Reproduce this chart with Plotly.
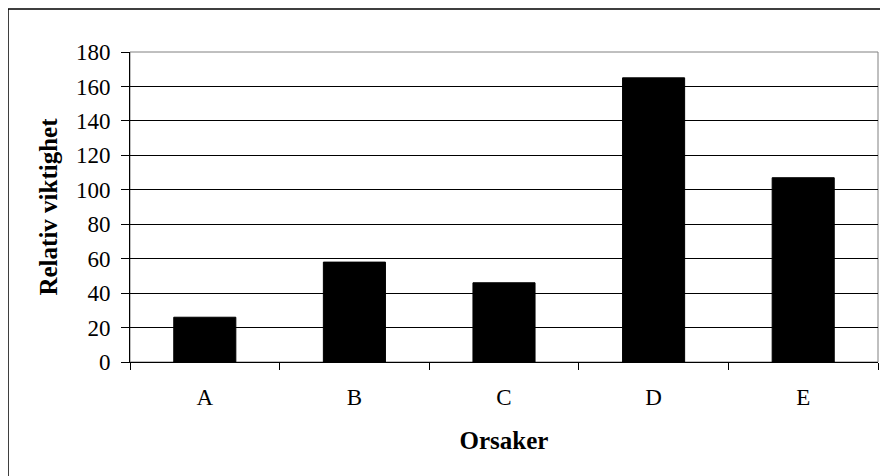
import plotly.graph_objects as go

categories = ["A", "B", "C", "D", "E"]
values = [26, 58, 46, 165, 107]
y_ticks = [0, 20, 40, 60, 80, 100, 120, 140, 160, 180]

FONT = "Liberation Serif, Times New Roman, serif"

fig = go.Figure(go.Bar(
    x=categories, y=values,
    marker=dict(color="black", line=dict(color="black", width=1)),
    width=0.415,
))

fig.update_layout(
    width=880, height=468,
    margin=dict(l=122, r=10, t=44, b=114, autoexpand=False),
    paper_bgcolor="white", plot_bgcolor="white",
    font=dict(family=FONT, color="black", size=23),
    showlegend=False,
    xaxis=dict(
        showline=True, linecolor="black", linewidth=1,
        ticks="outside", tickson="boundaries", ticklen=7, tickcolor="black",
        showgrid=False,
        ticklabelstandoff=14,
        title=dict(text="<b>Orsaker</b>", font=dict(size=25), standoff=22),
        tickfont=dict(size=23),
    ),
    yaxis=dict(
        range=[0, 180], tickvals=y_ticks,
        showline=True, linecolor="black", linewidth=1,
        ticks="outside", ticklen=8, tickcolor="black",
        showgrid=True, gridcolor="black", gridwidth=1,
        zeroline=False,
        ticklabelstandoff=6,
        title=dict(text="<b>Relativ viktighet</b>", font=dict(size=25), standoff=11),
        tickfont=dict(size=23),
    ),
    shapes=[
        dict(type="rect", xref="paper", yref="paper", x0=0, x1=1, y0=0, y1=1,
             line=dict(color="#808080", width=1), layer="below"),
        dict(type="rect", xref="paper", yref="paper",
             x0=-0.1631, x1=1.05, y0=-0.5, y1=1.1387,
             line=dict(color="black", width=1.5)),
    ],
)

fig.write_html("out.html")
